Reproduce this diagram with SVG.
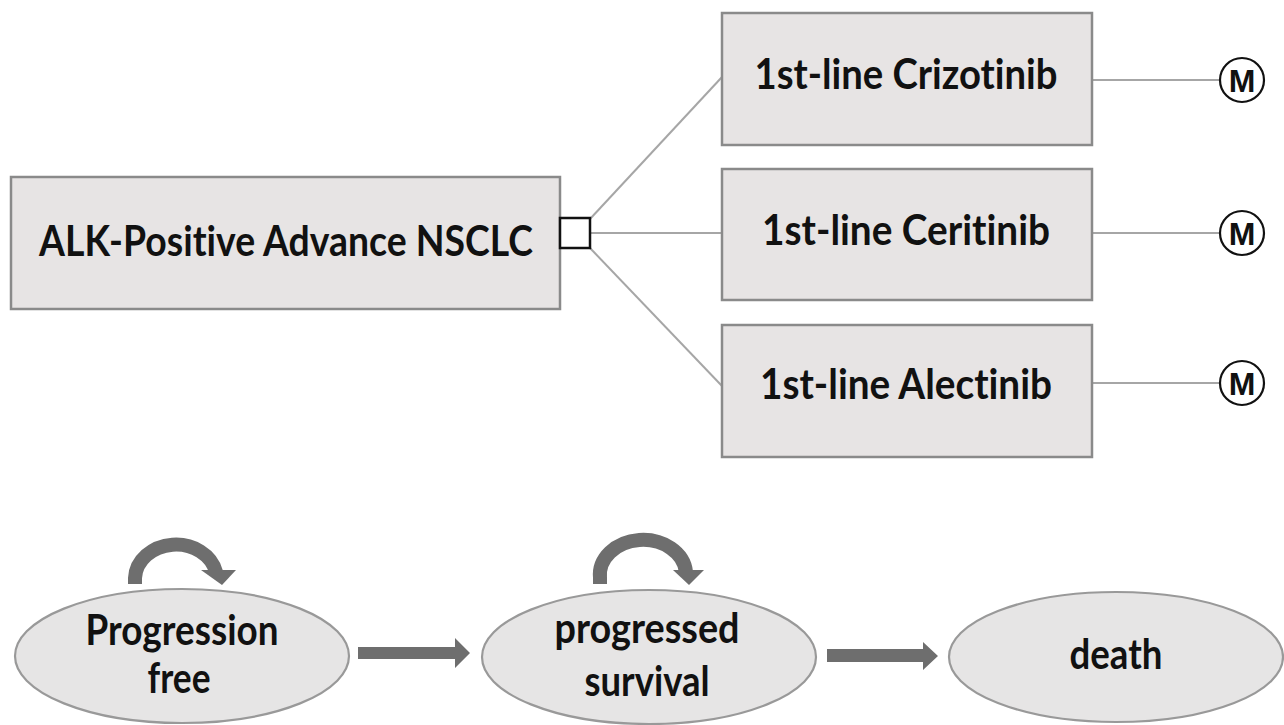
<svg xmlns="http://www.w3.org/2000/svg" width="1284" height="725" viewBox="0 0 1284 725">
<style>
.box{fill:#e7e4e4;stroke:#8a8a8a;stroke-width:2.5}
.ell{fill:#e6e5e5;stroke:#999;stroke-width:2.2}
.lbl{font-family:Lato,"Liberation Sans",sans-serif;font-weight:bold;font-size:42px;fill:#111;text-anchor:middle;font-variant-ligatures:none}
.conn{stroke:#a6a6a6;stroke-width:2;fill:none}
.mc{fill:#fff;stroke:#111;stroke-width:2.2}
.mt{font-family:"Liberation Sans",Arial,sans-serif;font-weight:bold;font-size:32px;fill:#111;text-anchor:middle}
.blk{fill:#6e6e6e}
.loop{fill:none;stroke:#6e6e6e;stroke-width:14}
</style>
<rect width="1284" height="725" fill="#fff"/>
<g id="connectors">
<line class="conn" x1="590" y1="219" x2="722" y2="77"/>
<line class="conn" x1="590" y1="233" x2="722" y2="233"/>
<line class="conn" x1="590" y1="248" x2="722" y2="386"/>
<line class="conn" x1="1092" y1="80" x2="1220" y2="80"/>
<line class="conn" x1="1092" y1="233" x2="1220" y2="233"/>
<line class="conn" x1="1092" y1="383" x2="1220" y2="383"/>
<path class="blk" d="M358,647 L455,647 L455,638 L470,653 L455,668 L455,659 L358,659 Z"/>
<path class="blk" d="M827,649 L923,649 L923,642 L938,656 L923,670 L923,662 L827,662 Z"/>
<path class="loop" d="M135,584 L135,578 A41,35 0 0 1 216,572"/>
<polygon class="blk" points="201,570 236,570 222,585"/>
<path class="loop" d="M600,584 L600,578 A43,35 0 0 1 686,572"/>
<polygon class="blk" points="673,570 704,570 689,585"/>
</g>
<g id="root">
<rect class="box" x="11" y="177" width="549" height="132"/>
<text class="lbl" x="286" y="256" textLength="494" lengthAdjust="spacingAndGlyphs">ALK-Positive Advance NSCLC</text>
</g>
<g id="decision">
<rect x="560" y="218" width="30" height="30" fill="#fff" stroke="#111" stroke-width="2.5"/>
</g>
<g id="crizotinib">
<rect class="box" x="722" y="13" width="370" height="132"/>
<text class="lbl" x="906" y="89" textLength="303" lengthAdjust="spacingAndGlyphs">1st-line Crizotinib</text>
</g>
<g id="ceritinib">
<rect class="box" x="722" y="169" width="370" height="131"/>
<text class="lbl" x="906" y="245" textLength="288" lengthAdjust="spacingAndGlyphs">1st-line Ceritinib</text>
</g>
<g id="alectinib">
<rect class="box" x="722" y="325" width="370" height="132"/>
<text class="lbl" x="906" y="399" textLength="292" lengthAdjust="spacingAndGlyphs">1st-line Alectinib</text>
</g>
<g id="markov1">
<circle class="mc" cx="1242" cy="80" r="22"/>
<text class="mt" x="1242" y="91.5">M</text>
</g>
<g id="markov2">
<circle class="mc" cx="1242" cy="233" r="22"/>
<text class="mt" x="1242" y="244.5">M</text>
</g>
<g id="markov3">
<circle class="mc" cx="1242" cy="383" r="22"/>
<text class="mt" x="1242" y="394.5">M</text>
</g>
<g id="progression-free">
<ellipse class="ell" cx="182" cy="656" rx="167" ry="67"/>
<text class="lbl" x="182" y="645" textLength="193" lengthAdjust="spacingAndGlyphs">Progression</text>
<text class="lbl" x="179" y="693" textLength="63" lengthAdjust="spacingAndGlyphs">free</text>
</g>
<g id="progressed-survival">
<ellipse class="ell" cx="649" cy="657" rx="167" ry="67"/>
<text class="lbl" x="647" y="643" textLength="185" lengthAdjust="spacingAndGlyphs">progressed</text>
<text class="lbl" x="647" y="696" textLength="125" lengthAdjust="spacingAndGlyphs">survival</text>
</g>
<g id="death">
<ellipse class="ell" cx="1116" cy="657" rx="167" ry="65"/>
<text class="lbl" x="1116" y="669" textLength="93" lengthAdjust="spacingAndGlyphs">death</text>
</g>
</svg>
